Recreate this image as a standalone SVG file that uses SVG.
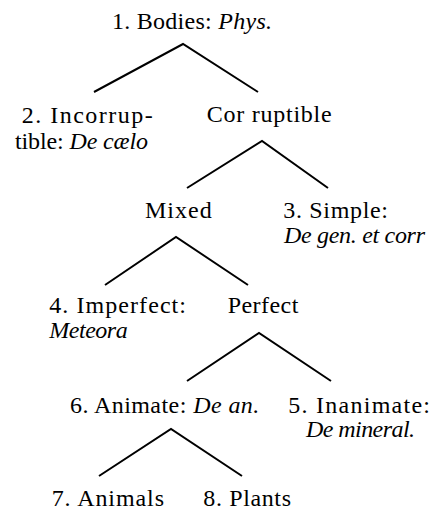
<svg xmlns="http://www.w3.org/2000/svg" width="434" height="510" viewBox="0 0 434 510">
<style>
text{font-family:"Liberation Serif","Times New Roman",serif;font-size:24px;fill:#000}
.i{font-style:italic}
.c{fill:none;stroke:#000;stroke-width:2;stroke-linejoin:miter}
</style>
<rect width="434" height="510" fill="#fff"/>
<g id="connectors">
<polyline class="c" points="94,92 183,44 258,92"/>
<polyline class="c" points="187,188 262,141 328,188"/>
<polyline class="c" points="105,285 176,237 248,285"/>
<polyline class="c" points="187,381 259,333 331,381"/>
<polyline class="c" points="99,476 171,429 242,476"/>
</g>
<g id="n1"><text x="112" y="29" textLength="160" lengthAdjust="spacing">1. Bodies: <tspan class="i">Phys.</tspan></text></g>
<g id="n2"><text x="21.7" y="122.5" textLength="131" lengthAdjust="spacing">2. Incorrup-</text><text x="15" y="148.5" textLength="133" lengthAdjust="spacing">tible: <tspan class="i">De cælo</tspan></text></g>
<g id="corruptible"><text x="206.7" y="122" textLength="125" lengthAdjust="spacing">Cor ruptible</text></g>
<g id="mixed"><text x="145" y="218.3" textLength="66.7" lengthAdjust="spacing">Mixed</text></g>
<g id="n3"><text x="283.3" y="218" textLength="104.7" lengthAdjust="spacing">3. Simple:</text><text class="i" x="284" y="242.5" textLength="141" lengthAdjust="spacing">De gen. et corr</text></g>
<g id="n4"><text x="49.3" y="313" textLength="136.7" lengthAdjust="spacing">4. Imperfect:</text><text class="i" x="49.3" y="337.5" textLength="78.4" lengthAdjust="spacing">Meteora</text></g>
<g id="perfect"><text x="227.7" y="313.3" textLength="70.6" lengthAdjust="spacing">Perfect</text></g>
<g id="n6"><text x="70" y="412.7" textLength="189.3" lengthAdjust="spacing">6. Animate:  <tspan class="i">De an.</tspan></text></g>
<g id="n5"><text x="288.3" y="412.5" textLength="141.7" lengthAdjust="spacing">5. Inanimate:</text><text class="i" x="306" y="437" textLength="109" lengthAdjust="spacing">De mineral.</text></g>
<g id="n7"><text x="51.7" y="505.7" textLength="112.3" lengthAdjust="spacing">7. Animals</text></g>
<g id="n8"><text x="203.3" y="505.7" textLength="87.7" lengthAdjust="spacing">8. Plants</text></g>
</svg>
